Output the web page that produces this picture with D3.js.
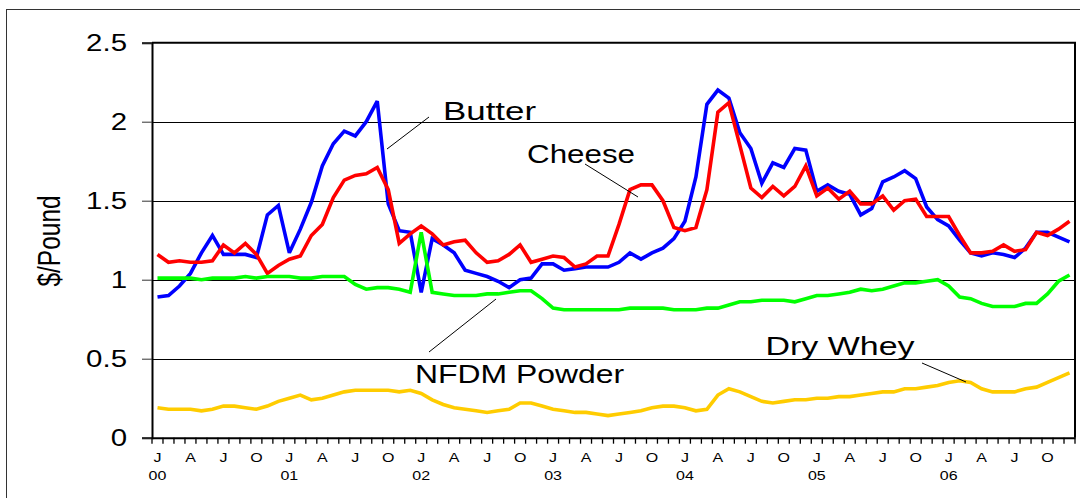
<!DOCTYPE html>
<html>
<head>
<meta charset="utf-8">
<script src="https://cdn.jsdelivr.net/npm/d3@7"></script>
<style>
  html, body { margin: 0; padding: 0; background: #fff; }
  svg { display: block; }
  text { font-family: "Liberation Sans", Arial, sans-serif; fill: #000; }
</style>
</head>
<body>
<svg id="chart" width="1080" height="498"></svg>
<script>
// ---------- DATA ----------
const years = ["00", "01", "02", "03", "04", "05", "06"];
const monthLetters = ["J", "F", "M", "A", "M", "J", "J", "A", "S", "O", "N", "D"];
const labelledMonths = [0, 3, 6, 9]; // J A J O
const yTicks = [0, 0.5, 1, 1.5, 2, 2.5];
const yTickLabels = ["0", "0.5", "1", "1.5", "2", "2.5"];
const yTitle = "$/Pound";

const butter = [
  0.89, 0.90, 0.96, 1.04, 1.17, 1.28, 1.16, 1.16, 1.16, 1.14, 1.41, 1.47,
  1.17, 1.32, 1.49, 1.72, 1.86, 1.94, 1.91, 2.00, 2.13, 1.48, 1.31, 1.30,
  0.92, 1.26, 1.22, 1.17, 1.06, 1.04, 1.02, 0.99, 0.95, 1.00, 1.01, 1.10,
  1.10, 1.06, 1.07, 1.08, 1.08, 1.08, 1.11, 1.17, 1.13, 1.17, 1.20, 1.26,
  1.37, 1.65, 2.11, 2.20, 2.15, 1.93, 1.83, 1.61, 1.74, 1.71, 1.83, 1.82,
  1.56, 1.60, 1.56, 1.54, 1.41, 1.45, 1.62, 1.65, 1.69, 1.64, 1.46, 1.38,
  1.34, 1.25, 1.17, 1.15, 1.17, 1.16, 1.14, 1.20, 1.30, 1.30, 1.27, 1.24
];
const cheese = [
  1.16, 1.11, 1.12, 1.11, 1.11, 1.12, 1.22, 1.17, 1.23, 1.16, 1.04, 1.09,
  1.13, 1.15, 1.28, 1.35, 1.52, 1.63, 1.66, 1.67, 1.71, 1.57, 1.23, 1.29,
  1.34, 1.29, 1.22, 1.24, 1.25, 1.17, 1.11, 1.12, 1.16, 1.22, 1.11, 1.13,
  1.15, 1.14, 1.08, 1.10, 1.15, 1.15, 1.35, 1.57, 1.60, 1.60, 1.50, 1.33,
  1.31, 1.33, 1.57, 2.06, 2.12, 1.85, 1.58, 1.52, 1.59, 1.53, 1.59, 1.72,
  1.53, 1.58, 1.51, 1.56, 1.48, 1.48, 1.53, 1.44, 1.50, 1.51, 1.40, 1.40,
  1.40, 1.28, 1.17, 1.17, 1.18, 1.22, 1.18, 1.19, 1.30, 1.28, 1.32, 1.37
];
const nfdm = [
  1.01, 1.01, 1.01, 1.01, 1.00, 1.01, 1.01, 1.01, 1.02, 1.01, 1.02, 1.02,
  1.02, 1.01, 1.01, 1.02, 1.02, 1.02, 0.97, 0.94, 0.95, 0.95, 0.94, 0.92,
  1.30, 0.92, 0.91, 0.90, 0.90, 0.90, 0.91, 0.91, 0.92, 0.93, 0.93, 0.88,
  0.82, 0.81, 0.81, 0.81, 0.81, 0.81, 0.81, 0.82, 0.82, 0.82, 0.82, 0.81,
  0.81, 0.81, 0.82, 0.82, 0.84, 0.86, 0.86, 0.87, 0.87, 0.87, 0.86, 0.88,
  0.90, 0.90, 0.91, 0.92, 0.94, 0.93, 0.94, 0.96, 0.98, 0.98, 0.99, 1.00,
  0.96, 0.89, 0.88, 0.85, 0.83, 0.83, 0.83, 0.85, 0.85, 0.91, 0.99, 1.03
];
const dryWhey = [
  0.19, 0.18, 0.18, 0.18, 0.17, 0.18, 0.20, 0.20, 0.19, 0.18, 0.20, 0.23,
  0.25, 0.27, 0.24, 0.25, 0.27, 0.29, 0.30, 0.30, 0.30, 0.30, 0.29, 0.30,
  0.28, 0.24, 0.21, 0.19, 0.18, 0.17, 0.16, 0.17, 0.18, 0.22, 0.22, 0.20,
  0.18, 0.17, 0.16, 0.16, 0.15, 0.14, 0.15, 0.16, 0.17, 0.19, 0.20, 0.20,
  0.19, 0.17, 0.18, 0.27, 0.31, 0.29, 0.26, 0.23, 0.22, 0.23, 0.24, 0.24,
  0.25, 0.25, 0.26, 0.26, 0.27, 0.28, 0.29, 0.29, 0.31, 0.31, 0.32, 0.33,
  0.35, 0.36, 0.35, 0.31, 0.29, 0.29, 0.29, 0.31, 0.32, 0.35, 0.38, 0.41
];
const seriesNames = ["Butter", "Cheese", "NFDM Powder", "Dry Whey"];
const seriesColors = ["#0000FF", "#FF0000", "#00FF00", "#FFCC00"];
const seriesValues = [butter, cheese, nfdm, dryWhey];

// ---------- CATEGORIES ----------
const months = [];
years.forEach(yy => monthLetters.forEach((m, mi) => months.push({ key: yy + "-" + mi, yy, mi })));

// ---------- LAYOUT ----------
const svg = d3.select("#chart");
const X0 = 152, X1 = 1075, Y0 = 437.7, Y1 = 42.7;
const SX = 1.28; // horizontal text stretch of the original picture

const x = d3.scaleBand().domain(months.map(d => d.key)).range([X0, X1]).paddingInner(0).paddingOuter(0);
const y = d3.scaleLinear().domain([0, 2.5]).range([Y0, Y1]);
const cx = k => x(k) + x.bandwidth() / 2;

// outer frame
svg.append("rect").attr("x", 6.5).attr("y", 9.5).attr("width", 1200).attr("height", 600)
  .attr("fill", "none").attr("stroke", "#333").attr("stroke-width", 1);

// gridlines
svg.append("g").selectAll("line").data(yTicks.filter(v => v > 0 && v < 2.5)).join("line")
  .attr("x1", X0).attr("x2", X1)
  .attr("y1", d => Math.round(y(d)) + 0.5).attr("y2", d => Math.round(y(d)) + 0.5)
  .attr("stroke", "#000").attr("stroke-width", 1);

// plot border top & right
svg.append("line").attr("x1", X0).attr("x2", X1 + 1).attr("y1", y(2.5)).attr("y2", y(2.5))
  .attr("stroke", "#000").attr("stroke-width", 2);
svg.append("line").attr("x1", X1).attr("x2", X1).attr("y1", y(2.5)).attr("y2", Y0)
  .attr("stroke", "#000").attr("stroke-width", 2);

// Y axis
const yAxis = svg.append("g").attr("transform", `translate(${X0},0)`)
  .call(d3.axisLeft(y).tickValues(yTicks).tickSize(10).tickPadding(0)
    .tickFormat((d, i) => yTickLabels[i]));
yAxis.select(".domain").attr("stroke", "#000").attr("stroke-width", 2);
yAxis.selectAll(".tick line").attr("stroke", "#333").attr("stroke-width", 1);
yAxis.selectAll(".tick text")
  .attr("x", -25 / SX).attr("dy", "0.36em")
  .attr("transform", `scale(${SX},1)`)
  .style("font-size", "23px").style("font-family", "'Liberation Sans', Arial, sans-serif")
  .attr("fill", "#000");

// X axis (labels J A J O)
const xAxis = svg.append("g").attr("transform", `translate(0,${Y0})`)
  .call(d3.axisBottom(x)
    .tickValues(months.filter(d => labelledMonths.includes(d.mi)).map(d => d.key))
    .tickSize(0).tickPadding(0)
    .tickFormat(k => monthLetters[+k.split("-")[1]]));
xAxis.select(".domain").attr("stroke", "#000").attr("stroke-width", 2);
xAxis.selectAll(".tick text")
  .attr("y", 0).attr("dy", 0)
  .attr("transform", `translate(0,24) scale(${SX},1)`)
  .style("font-size", "12.5px").style("font-family", "'Liberation Sans', Arial, sans-serif")
  .attr("fill", "#000");

// month boundary ticks
const bounds = months.map(d => x(d.key)).concat([X1]);
svg.append("g").selectAll("line").data(bounds).join("line")
  .attr("x1", d => d).attr("x2", d => d)
  .attr("y1", Y0).attr("y2", Y0 + 6)
  .attr("stroke", "#000").attr("stroke-width", 1.3);

// year labels
svg.append("g").selectAll("text").data(months.filter(d => d.mi === 0)).join("text")
  .attr("transform", d => `translate(${cx(d.key)},480) scale(${SX},1)`)
  .attr("text-anchor", "middle").style("font-size", "12.5px")
  .text(d => d.yy);

// Y title
svg.append("text")
  .attr("transform", `translate(59.5,241) rotate(-90) scale(1,${SX})`)
  .attr("text-anchor", "middle").style("font-size", "24.5px")
  .text(yTitle);

// series lines
const line = d3.line().x((d, i) => cx(months[i].key)).y(d => y(d));
svg.append("g").selectAll("path").data(seriesValues).join("path")
  .attr("d", d => line(d))
  .attr("fill", "none")
  .attr("stroke", (d, i) => seriesColors[i])
  .attr("stroke-width", 3.6)
  .attr("stroke-linejoin", "miter").attr("stroke-miterlimit", 3);

// annotations
const annotations = [
  { name: seriesNames[0], tx: 443, ty: 119.5, len: 93, l: [429, 117, 387, 149] },
  { name: seriesNames[1], tx: 527, ty: 162.5, len: 108, l: [585, 164, 638, 197] },
  { name: seriesNames[2], tx: 415, ty: 382.7, len: 209, l: [429, 352, 496, 299] },
  { name: seriesNames[3], tx: 765.5, ty: 355, len: 149, l: [922, 363, 966, 382] }
];
const ann = svg.append("g");
ann.selectAll("line").data(annotations).join("line")
  .attr("x1", d => d.l[0]).attr("y1", d => d.l[1]).attr("x2", d => d.l[2]).attr("y2", d => d.l[3])
  .attr("stroke", "#000").attr("stroke-width", 1);
ann.selectAll("text").data(annotations).join("text")
  .attr("x", d => d.tx).attr("y", d => d.ty)
  .attr("textLength", d => d.len).attr("lengthAdjust", "spacingAndGlyphs")
  .style("font-size", "25px")
  .text(d => d.name);
</script>
</body>
</html>
